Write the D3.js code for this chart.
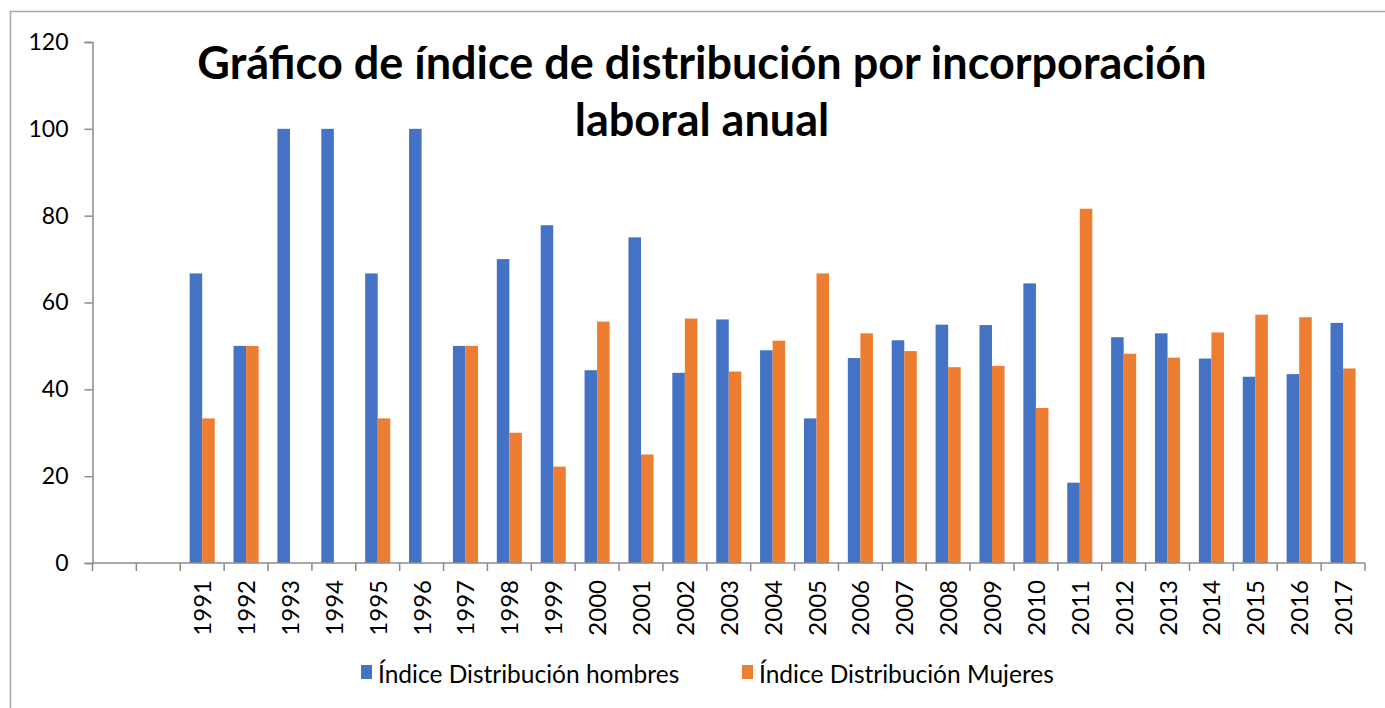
<!DOCTYPE html>
<html>
<head>
<meta charset="utf-8">
<script src="https://d3js.org/d3.v7.min.js"></script>
<style>
  body { margin: 0; background: #fff; }
  svg { display: block; }
  text { font-family: Lato, "Open Sans", sans-serif; fill: #000; }
</style>
</head>
<body>
<div id="chart"></div>
<script>
// two blank slots before the first year, as in the original sheet
var categories = ["", " ", "1991", "1992", "1993", "1994", "1995", "1996", "1997", "1998", "1999",
  "2000", "2001", "2002", "2003", "2004", "2005", "2006", "2007", "2008", "2009",
  "2010", "2011", "2012", "2013", "2014", "2015", "2016", "2017"];

var hombres = [null, null, 66.7, 50, 100, 100, 66.7, 100, 50, 70, 77.8,
  44.4, 75, 43.8, 56.1, 49, 33.3, 47.2, 51.3, 54.9, 54.8,
  64.4, 18.5, 52, 52.9, 47.1, 42.9, 43.5, 55.3];

var mujeres = [null, null, 33.3, 50, 0, 0, 33.3, 0, 50, 30, 22.2,
  55.6, 25, 56.3, 44.1, 51.2, 66.7, 52.9, 48.8, 45.1, 45.4,
  35.7, 81.6, 48.2, 47.3, 53.1, 57.2, 56.6, 44.8];

var seriesNames = ["Índice Distribución hombres", "Índice Distribución Mujeres"];
var colors = ["#4472C4", "#ED7D31"];
var yTicks = [0, 20, 40, 60, 80, 100, 120];
var titleLines = ["Gráfico de índice de distribución por incorporación", "laboral anual"];

var W = 1385, H = 708;
var plotL = 92.5, plotR = 1365, plotT = 42, plotB = 563;

var svg = d3.select("#chart").append("svg")
    .attr("width", W)
    .attr("height", H);

// chart frame
svg.append("rect")
    .attr("x", 10.5).attr("y", 11.5)
    .attr("width", 1400).attr("height", 720)
    .attr("fill", "none")
    .attr("stroke", "#a6a6a6")
    .attr("stroke-width", 1.5);

var x0 = d3.scaleBand().domain(categories).range([plotL, plotR]).padding(0);
var x1 = d3.scaleBand().domain([0, 1]).range([0, x0.bandwidth()]).paddingInner(0).paddingOuter(0.75);
var y = d3.scaleLinear().domain([0, 120]).range([plotB, plotT]);

var rows = categories.map(function(c, i) { return {cat: c, vals: [hombres[i], mujeres[i]]}; });

svg.append("g").selectAll("g")
  .data(rows)
  .enter().append("g")
    .attr("transform", function(d) { return "translate(" + x0(d.cat) + ",0)"; })
  .selectAll("rect")
  .data(function(d) { return d.vals.map(function(v, k) { return {k: k, v: v}; }).filter(function(e) { return e.v; }); })
  .enter().append("rect")
    .attr("x", function(d) { return x1(d.k); })
    .attr("width", x1.bandwidth())
    .attr("y", function(d) { return y(d.v); })
    .attr("height", function(d) { return y(0) - y(d.v); })
    .attr("fill", function(d) { return colors[d.k]; });

// y axis
var yAxis = svg.append("g")
    .attr("transform", "translate(" + plotL + ",0)")
    .call(d3.axisLeft(y).tickValues(yTicks).tickSize(8).tickPadding(16));
yAxis.select(".domain").attr("stroke", "#8c8c8c").attr("stroke-width", 1.5);
yAxis.selectAll(".tick line").attr("stroke", "#8c8c8c").attr("stroke-width", 1.5);
yAxis.selectAll(".tick text").attr("font-size", 23).attr("font-family", "Lato, sans-serif").attr("fill", "#000");

// x axis: ticks sit between categories
var xAxis = svg.append("g")
    .attr("transform", "translate(0," + plotB + ")");
xAxis.append("line")
    .attr("x1", plotL).attr("x2", plotR)
    .attr("stroke", "#8c8c8c").attr("stroke-width", 1.5);
var bounds = categories.map(function(c) { return x0(c); }).concat([plotR]);
xAxis.selectAll(".xt")
  .data(bounds)
  .enter().append("line")
    .attr("class", "xt")
    .attr("x1", function(d) { return d; }).attr("x2", function(d) { return d; })
    .attr("y1", 0).attr("y2", 8)
    .attr("stroke", "#8c8c8c").attr("stroke-width", 1.5);
xAxis.selectAll(".xl")
  .data(categories.filter(function(c) { return c.trim() !== ""; }))
  .enter().append("text")
    .attr("class", "xl")
    .attr("transform", function(d) { return "translate(" + (x0(d) + x0.bandwidth() / 2 + 9) + ",17) rotate(-90)"; })
    .attr("text-anchor", "end")
    .attr("font-size", 24)
    .text(function(d) { return d; });

// title
svg.append("g").selectAll("text")
  .data(titleLines)
  .enter().append("text")
    .attr("x", 702)
    .attr("y", function(d, i) { return 79 + i * 57; })
    .attr("text-anchor", "middle")
    .attr("font-size", 45)
    .attr("font-weight", "bold")
    .text(function(d) { return d; });

// legend
var legendX = [361, 742];
var legend = svg.append("g").selectAll("g")
  .data(seriesNames)
  .enter().append("g")
    .attr("transform", function(d, i) { return "translate(" + legendX[i] + ",0)"; });
legend.append("rect")
    .attr("x", 0).attr("y", 665)
    .attr("width", 11).attr("height", 14)
    .attr("fill", function(d, i) { return colors[i]; });
legend.append("text")
    .attr("x", 17).attr("y", 683)
    .attr("font-size", 24.5)
    .text(function(d) { return d; });
</script>
</body>
</html>
